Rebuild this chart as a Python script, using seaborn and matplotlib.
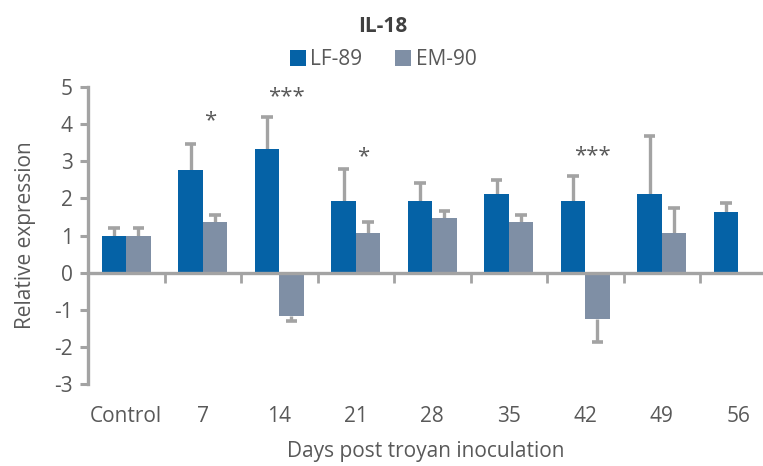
import numpy as np
import pandas as pd
import matplotlib
matplotlib.use("Agg")
import matplotlib.pyplot as plt
import seaborn as sns

# Relative IL-18 expression by day, mean and one-sided SD
days = ["Control", "7", "14", "21", "28", "35", "42", "49", "56"]
lf89 = [1.00, 2.77, 3.33, 1.94, 1.94, 2.12, 1.94, 2.12, 1.64]
lf89_sd = [0.20, 0.70, 0.86, 0.86, 0.48, 0.38, 0.67, 1.56, 0.24]
em90 = [1.00, 1.37, -1.18, 1.08, 1.48, 1.37, -1.26, 1.08, np.nan]
em90_sd = [0.20, 0.19, 0.11, 0.29, 0.19, 0.19, 0.62, 0.67, np.nan]
strains = ["LF-89", "EM-90"]

# Significance markers: (day label, stars, height)
sig_days = ["7", "14", "21", "42"]
sig_marks = ["*", "***", "*", "***"]
sig_y = [4.1, 4.73, 3.12, 3.15]

colors = {"LF-89": "#0562A6", "EM-90": "#7F8FA5"}
axis_grey = "#A3A3A3"
text_grey = "#595959"

df = pd.DataFrame({
    "day": days * 2,
    "strain": ["LF-89"] * len(days) + ["EM-90"] * len(days),
    "value": lf89 + em90,
    "sd": lf89_sd + em90_sd,
})

sns.set_theme(style="white")
plt.rcParams["font.family"] = ["Open Sans", "DejaVu Sans"]

fig = plt.figure(figsize=(7.63, 4.66), dpi=100)
ax = fig.add_axes([88 / 763, (466 - 384) / 466, (763 - 88) / 763, (384 - 87) / 466])

sns.barplot(data=df, x="day", y="value", hue="strain", order=days,
            hue_order=strains, palette=colors, width=0.64, errorbar=None,
            saturation=1, edgecolor="none", linewidth=0, ax=ax, legend=True,
            zorder=2)

# One-sided error bars drawn from each bar's own geometry
sd_lookup = {"LF-89": lf89_sd, "EM-90": em90_sd}
cap_half = 0.075
for container, strain in zip(ax.containers, strains):
    for patch in container:
        h = patch.get_height()
        if np.isnan(h):
            continue
        x = patch.get_x() + patch.get_width() / 2
        idx = int(round(x))
        sd = sd_lookup[strain][idx]
        if np.isnan(sd):
            continue
        end = h + sd if h >= 0 else h - sd
        ax.vlines(x, h, end, color=axis_grey, linewidth=2.4, zorder=1)
        ax.hlines(end, x - cap_half, x + cap_half, color=axis_grey,
                  linewidth=2.6, zorder=1)

for d, mark, y in zip(sig_days, sig_marks, sig_y):
    i = days.index(d)
    ax.text(i + 0.1, y, mark, ha="center", va="center", fontsize=16,
            color=text_grey)

ax.set_ylim(-3, 5)
ax.set_xlim(-0.5, -0.5 + 675 / 76.5)
ax.set_yticks(range(-3, 6))
ax.set_yticklabels([str(v) for v in range(-3, 6)])
ax.tick_params(axis="y", direction="out", length=6, width=2.2,
               color=axis_grey, labelcolor=text_grey, labelsize=15, pad=5,
               left=True)
ax.set_ylabel("Relative expression", fontsize=15, color=text_grey,
              labelpad=13)

# Zero baseline carries the group separators
for side in ["top", "right"]:
    ax.spines[side].set_visible(False)
ax.spines["left"].set_color(axis_grey)
ax.spines["left"].set_linewidth(2.4)
ax.spines["bottom"].set_position(("data", 0))
ax.spines["bottom"].set_color(axis_grey)
ax.spines["bottom"].set_linewidth(2.4)
ax.set_xticks([])
ax.set_xticks(np.arange(0.5, len(days) - 1, 1.0), minor=True)
ax.tick_params(axis="x", which="minor", direction="out", length=7, width=2,
               color=axis_grey, bottom=True, labelbottom=False)
ax.set_xlabel("")

# Category labels sit below the plotting area
sec = ax.secondary_xaxis("bottom")
sec.set_xticks(range(len(days)))
sec.set_xticklabels(days)
sec.tick_params(length=0, labelsize=15, labelcolor=text_grey, pad=16)
sec.spines["bottom"].set_visible(False)
sec.set_xlabel("Days post troyan inoculation", fontsize=15, color=text_grey,
               labelpad=10)

ax.legend(loc="center", bbox_to_anchor=(383 / 763, 1 - 60 / 466),
          bbox_transform=fig.transFigure, ncol=2, frameon=False,
          fontsize=15, handlelength=0.77, handleheight=0.77,
          handletextpad=0.2, columnspacing=1.6, labelcolor=text_grey)

fig.text(383 / 763, 1 - 27 / 466, "IL-18", ha="center", va="center",
         fontsize=15, fontweight="bold", color="#404040")

fig.savefig("out.png", dpi=100)
